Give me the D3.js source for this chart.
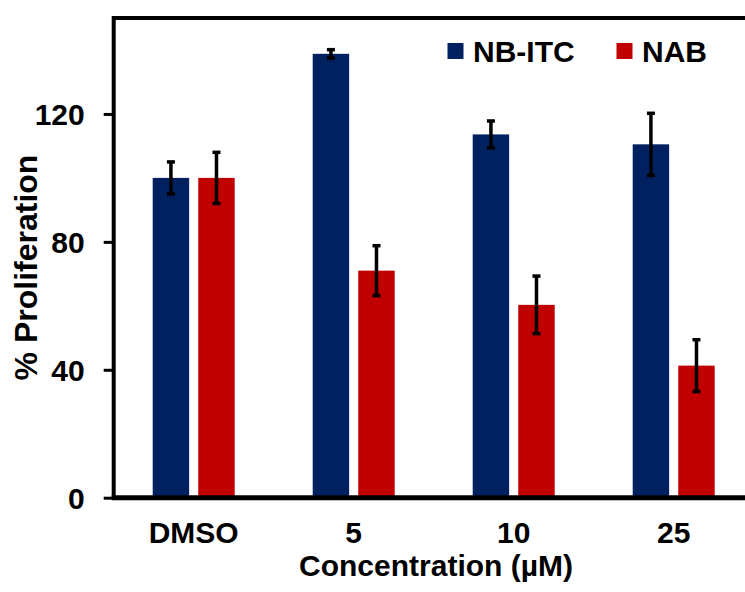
<!DOCTYPE html>
<html>
<head>
<meta charset="utf-8">
<script src="https://cdn.jsdelivr.net/npm/d3@7"></script>
<style>
  html, body { margin: 0; padding: 0; background: #fff; }
  svg { display: block; }
  text { font-family: Arial, "Liberation Sans", sans-serif; font-weight: bold; fill: #000; }
</style>
</head>
<body>
<svg id="chart" width="745" height="592"></svg>
<script>
// Proliferation (%) by treatment concentration
const categories = ["DMSO", "5", "10", "25"];
const seriesNames = ["NB-ITC", "NAB"];
const nbItcValues = [100, 138.8, 113.6, 110.5];
const nbItcErrors = [5, 1.3, 4.2, 9.7];
const nabValues = [100, 71, 60.3, 41.3];
const nabErrors = [8, 7.8, 9, 8.1];
const yTicks = [0, 40, 80, 120];
const colors = ["#002060", "#C00000"];

const svg = d3.select("#chart");

const plotLeft = 113.7, plotRight = 753.7, plotTop = 18, plotBottom = 497.7;

const x0 = d3.scaleBand()
  .domain(categories)
  .range([plotLeft, plotRight])
  .paddingInner(0.4875)
  .paddingOuter(0.24375);

const x1 = d3.scaleBand()
  .domain(seriesNames)
  .range([0, x0.bandwidth()])
  .paddingInner(0.2);

const y = d3.scaleLinear().domain([0, 150]).range([plotBottom, plotTop]);

const rows = categories.map((c, i) => ({
  cat: c,
  items: [
    { name: seriesNames[0], value: nbItcValues[i], err: nbItcErrors[i], color: colors[0] },
    { name: seriesNames[1], value: nabValues[i], err: nabErrors[i], color: colors[1] }
  ]
}));

// Bars
const groups = svg.append("g").selectAll("g")
  .data(rows).join("g")
  .attr("transform", d => `translate(${x0(d.cat)},0)`);

groups.selectAll("rect")
  .data(d => d.items).join("rect")
  .attr("x", d => x1(d.name))
  .attr("y", d => y(d.value))
  .attr("width", x1.bandwidth())
  .attr("height", d => y(0) - y(d.value))
  .attr("fill", d => d.color);

// Error bars
const eb = groups.selectAll("g.err")
  .data(d => d.items).join("g")
  .attr("class", "err")
  .attr("transform", d => `translate(${x1(d.name) + x1.bandwidth() / 2},0)`)
  .attr("stroke", "#000")
  .attr("stroke-width", 3.5);
eb.append("line")
  .attr("y1", d => y(d.value + d.err))
  .attr("y2", d => y(d.value - d.err));
eb.append("line")
  .attr("x1", -4).attr("x2", 4)
  .attr("y1", d => y(d.value + d.err)).attr("y2", d => y(d.value + d.err));
eb.append("line")
  .attr("x1", -4).attr("x2", 4)
  .attr("y1", d => y(d.value - d.err)).attr("y2", d => y(d.value - d.err));

// Y axis ticks and labels
const yAxis = svg.append("g")
  .attr("transform", `translate(${plotLeft},0)`)
  .call(d3.axisLeft(y).tickValues(yTicks).tickSize(10).tickSizeOuter(0).tickPadding(19));
yAxis.select(".domain").remove();
yAxis.selectAll(".tick line").attr("stroke", "#000").attr("stroke-width", 3);
yAxis.selectAll(".tick text").attr("font-size", 30).attr("font-family", null).attr("dy", "0.35em");

// X axis labels
const xAxis = svg.append("g")
  .attr("transform", `translate(0,${plotBottom})`)
  .call(d3.axisBottom(x0).tickSize(0).tickPadding(24));
xAxis.select(".domain").remove();
xAxis.selectAll(".tick text").attr("font-size", 30).attr("font-family", null);

// Frame
svg.append("path")
  .attr("d", `M${plotLeft},${plotBottom}V${plotTop}H${plotRight}`)
  .attr("fill", "none").attr("stroke", "#000").attr("stroke-width", 4);
svg.append("line")
  .attr("x1", plotLeft - 2).attr("x2", plotRight)
  .attr("y1", plotBottom).attr("y2", plotBottom)
  .attr("stroke", "#000").attr("stroke-width", 5);

// Axis titles
svg.append("text")
  .attr("transform", "rotate(-90)")
  .attr("x", -267.5).attr("y", 37)
  .attr("text-anchor", "middle")
  .attr("font-size", 32)
  .text("% Proliferation");

svg.append("text")
  .attr("x", 436).attr("y", 576)
  .attr("text-anchor", "middle")
  .attr("font-size", 30)
  .text("Concentration (µM)");

// Legend
const legendX = [447.5, 616.5];
const legend = svg.append("g").selectAll("g")
  .data(seriesNames).join("g")
  .attr("transform", (d, i) => `translate(${legendX[i]},43)`);
legend.append("rect")
  .attr("width", 16).attr("height", 16)
  .attr("fill", (d, i) => colors[i]);
legend.append("text")
  .attr("x", 25.5).attr("y", 18.5)
  .attr("font-size", 30)
  .text(d => d);
</script>
</body>
</html>
